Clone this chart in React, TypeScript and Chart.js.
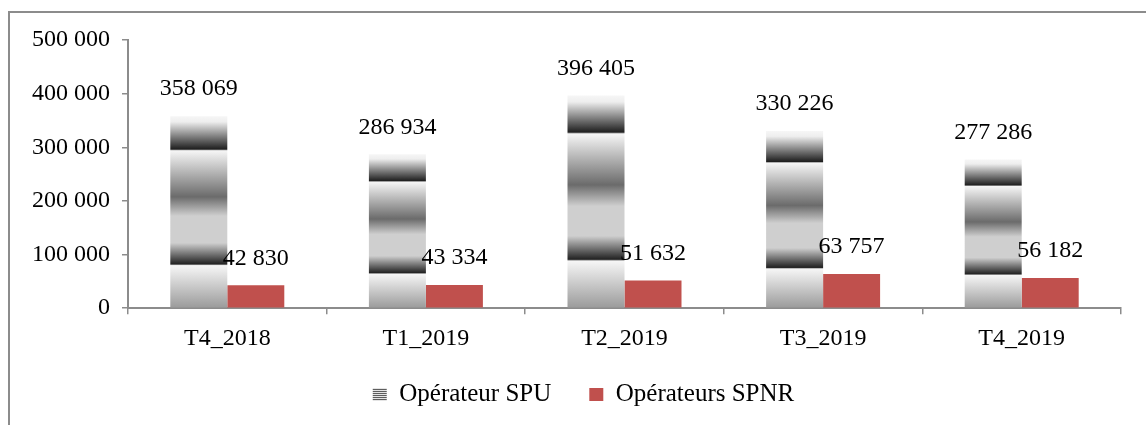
import React, { useEffect, useRef } from 'react';
import { Chart, registerables } from 'chart.js';
Chart.register(...registerables);

const categories = ['T4_2018', 'T1_2019', 'T2_2019', 'T3_2019', 'T4_2019'];
const spuValues = [358069, 286934, 396405, 330226, 277286];
const spnrValues = [42830, 43334, 51632, 63757, 56182];
const yTicks = [0, 100000, 200000, 300000, 400000, 500000];
const seriesLabels = ['Opérateur SPU', 'Opérateurs SPNR'];

const FONT = "'Liberation Serif', 'Times New Roman', serif";
const FONT_SIZE = 24;
const RED = '#c0504d';
const AXIS = '#8c8c8c';
const LEGEND_SHIFT_X = 18;
const LEGEND_SHIFT_Y = -19;

const gradientStops: [number, string][] = [
  [0, '#f6f6f6'],
  [0.03, '#eeeeee'],
  [0.172, '#1f1f1f'],
  [0.18, '#f6f6f6'],
  [0.42, '#6b6b6b'],
  [0.52, '#cfcfcf'],
  [0.66, '#cfcfcf'],
  [0.77, '#222222'],
  [0.778, '#f6f6f6'],
  [1, '#9a9a9a'],
];

const fmt = (v: number) => String(Math.round(v)).replace(/\B(?=(\d{3})+(?!\d))/g, ' ');

function spuFill(c: any) {
  const chart = c.chart;
  const y = chart.scales && chart.scales.y;
  if (!y || c.type !== 'data' || typeof c.raw !== 'number') return '#bbbbbb';
  const top = y.getPixelForValue(c.raw);
  const bottom = y.getPixelForValue(0);
  if (!isFinite(top) || !isFinite(bottom) || bottom - top < 1) return '#bbbbbb';
  const g = chart.ctx.createLinearGradient(0, top, 0, bottom);
  gradientStops.forEach(([o, col]) => g.addColorStop(o, col));
  return g;
}

const valueLabels = {
  id: 'valueLabels',
  afterDatasetsDraw(chart: any) {
    const ctx = chart.ctx;
    ctx.save();
    ctx.font = `${FONT_SIZE}px ${FONT}`;
    ctx.fillStyle = '#000';
    ctx.textAlign = 'center';
    ctx.textBaseline = 'middle';
    chart.data.datasets.forEach((ds: any, di: number) => {
      chart.getDatasetMeta(di).data.forEach((el: any, i: number) => {
        ctx.fillText(fmt(ds.data[i]), el.x, el.y - 27);
      });
    });
    ctx.restore();
  },
};

const legendShift = {
  id: 'legendShift',
  afterLayout(chart: any) {
    const lg = chart.legend;
    if (!lg) return;
    lg.left += LEGEND_SHIFT_X;
    lg.right += LEGEND_SHIFT_X;
    lg.top += LEGEND_SHIFT_Y;
    lg.bottom += LEGEND_SHIFT_Y;
  },
};

export default function App() {
  const ref = useRef<HTMLCanvasElement | null>(null);
  useEffect(() => {
    if (!ref.current) return;
    const pc = document.createElement('canvas');
    pc.width = 2;
    pc.height = 2;
    const pctx = pc.getContext('2d')!;
    pctx.fillStyle = '#e4e4e4';
    pctx.fillRect(0, 0, 2, 2);
    pctx.fillStyle = '#5e5e5e';
    pctx.fillRect(0, 0, 2, 1);
    const stripe = ref.current.getContext('2d')!.createPattern(pc, 'repeat');

    const chart = new Chart(ref.current, {
      type: 'bar',
      data: {
        labels: categories,
        datasets: [
          { label: seriesLabels[0], data: spuValues, backgroundColor: spuFill as any, borderWidth: 0 },
          { label: seriesLabels[1], data: spnrValues, backgroundColor: RED, borderWidth: 0 },
        ],
      },
      options: {
        animation: false,
        responsive: false,
        devicePixelRatio: 1,
        layout: { padding: { top: 27, right: 25, left: 0, bottom: 0 } },
        datasets: { bar: { categoryPercentage: 0.574, barPercentage: 1 } },
        scales: {
          x: {
            grid: { display: true, drawOnChartArea: false, drawTicks: true, tickLength: 6, color: AXIS, lineWidth: 1.5, offset: true },
            border: { color: AXIS, width: 2 },
            ticks: { font: { family: FONT, size: FONT_SIZE }, color: '#000', padding: 10 },
          },
          y: {
            min: 0,
            max: 500000,
            afterBuildTicks: (s: any) => { s.ticks = yTicks.map((v) => ({ value: v })); },
            afterFit: (s: any) => { s.width = 118; },
            ticks: { font: { family: FONT, size: FONT_SIZE }, color: '#000', padding: 12, callback: (v: any) => fmt(Number(v)) },
            grid: { display: true, drawOnChartArea: false, drawTicks: true, tickLength: 6, color: AXIS, lineWidth: 1.5 },
            border: { color: AXIS, width: 2 },
          },
        },
        plugins: {
          tooltip: { enabled: false },
          legend: {
            position: 'bottom',
            labels: {
              font: { family: FONT, size: 25 },
              color: '#000',
              boxWidth: 14,
              boxHeight: 13,
              padding: 38,
              generateLabels: () =>
                seriesLabels.map((t, i) => ({
                  text: t,
                  fillStyle: i === 0 ? (stripe as any) : RED,
                  strokeStyle: 'rgba(0,0,0,0)',
                  lineWidth: 0,
                  hidden: false,
                  datasetIndex: i,
                  fontColor: '#000',
                })),
            },
          },
        },
      },
      plugins: [valueLabels, legendShift],
    });
    return () => chart.destroy();
  }, []);

  return (
    <div
      style={{
        position: 'fixed',
        left: 8,
        top: 11,
        width: 1140,
        height: 430,
        border: '2px solid #8c8c8c',
        background: '#fff',
      }}
    >
      <canvas ref={ref} width={1136} height={423} style={{ display: 'block' }} />
    </div>
  );
}
